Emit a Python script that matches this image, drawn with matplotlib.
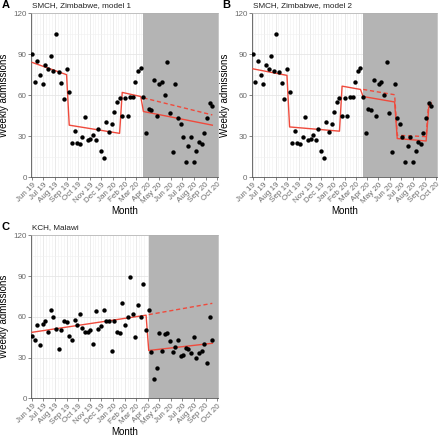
"""Weekly admissions with segmented-regression fits, three panels."""

import matplotlib

matplotlib.use("Agg")
import matplotlib.dates as mdates
import matplotlib.pyplot as plt
import pandas as pd

plt.rcParams["font.family"] = ["Liberation Sans", "DejaVu Sans"]

FIRST_WEEK = "2019-06-01"

# weekly admissions, SMCH Zimbabwe (panels A and B)
smch_admissions = [
    90, 70, 85, 75, 68, 82, 79, 89, 78, 105, 77, 69, 57, 79, 62, 25, 34, 25,
    24, 29, 44, 27, 28, 31, 27, 35, 19, 14, 40, 33, 39, 48, 55, 58, 45, 58,
    45, 59, 59, 70, 78, 80, 59, 32, 50, 49, 71, 45, 68, 70, 60, 84, 47, 18,
    68, 43, 39, 29, 11, 23, 29, 11, 19, 26, 24, 32, 43, 54, 52,
]

# weekly admissions, KCH Malawi (panel C)
kch_admissions = [
    46, 43, 54, 39, 55, 57, 49, 65, 60, 51, 36, 50, 57, 56, 46, 43, 58, 54,
    62, 52, 49, 49, 50, 40, 64, 51, 53, 65, 57, 57, 35, 57, 49, 48, 70, 54,
    60, 89, 62, 45, 69, 60, 84, 50, 65, 34, 14, 22, 48, 35, 47, 48, 42, 34,
    38, 43, 31, 32, 37, 36, 33, 45, 30, 33, 35, 40, 26, 60, 43,
]

# fitted lines: week index of each vertex and the fitted value there
a_fit_week = [0, 13, 14, 33, 34, 41, 42, 68]
a_fit_value = [84, 75, 38, 32, 62, 59, 48, 38]
a_cf_week = [42, 68]
a_cf_value = [58, 45.5]

b_fit_week = [0, 13, 14, 33, 34, 41, 42, 54, 55, 66, 67, 68]
b_fit_value = [79.3, 74.5, 36.7, 33.6, 66.6, 64.2, 59.0, 55.0, 28.2, 26.4, 51.0, 54.0]
b_cf_week = [42, 54, 55, 66, 67, 68]
b_cf_value = [64.2, 60.3, 30.6, 29.6, 55.0, 56.0]

c_fit_week = [0, 43, 44, 68]
c_fit_value = [48.6, 61.2, 35.2, 40.5]
c_cf_week = [44, 68]
c_cf_value = [61.6, 69.9]

# week at which the shaded (post-lockdown) period starts
a_shade_week = 42
c_shade_week = 44

RED = "#ef4a3c"
SHADE = "#b4b4b4"
W, H = 440, 436


def week_dates(n):
    return pd.date_range(FIRST_WEEK, periods=n, freq="7D")


def add_panel(fig, box, letter, title, counts, fit_w, fit_v, cf_w, cf_v, shade_w):
    left, top, right, bottom = box
    ax = fig.add_axes([left / W, 1 - bottom / H, (right - left) / W, (bottom - top) / H])
    dates = week_dates(len(counts))
    x_lo, x_hi = pd.Timestamp("2019-05-29"), pd.Timestamp("2020-10-04")

    ax.axvspan(dates[shade_w], x_hi, color=SHADE, lw=0, zorder=1)
    ax.plot(dates[fit_w], fit_v, color=RED, lw=1.0, zorder=3)
    ax.plot(dates[cf_w], cf_v, color=RED, lw=1.0, ls=(0, (3, 2)), zorder=3)
    ax.scatter(dates, counts, s=10, color="black", lw=0, zorder=4)

    ax.set_xlim(x_lo, x_hi)
    ax.set_ylim(0, 120)
    ax.set_yticks([0, 30, 60, 90, 120])
    ax.set_yticks([15, 45, 75, 105], minor=True)
    ax.xaxis.set_major_locator(mdates.MonthLocator())
    ax.xaxis.set_major_formatter(mdates.DateFormatter("%b %y"))
    ax.xaxis.set_minor_locator(mdates.DayLocator(bymonthday=[8, 15, 23]))
    ax.grid(which="major", color="#e6e6e6", lw=0.6, zorder=0)
    ax.grid(which="minor", color="#f0f0f0", lw=0.4, zorder=0)
    ax.set_axisbelow(True)

    ax.tick_params(axis="both", which="major", labelsize=5.8, colors="#555555",
                   labelcolor="#6a6a6a", length=2, width=0.5, pad=1)
    ax.tick_params(axis="both", which="minor", length=0)
    for lab in ax.get_xticklabels():
        lab.set_rotation(45)
        lab.set_ha("right")
        lab.set_rotation_mode("anchor")
    for side in ("top", "right"):
        ax.spines[side].set_color("#b0b0b0")
        ax.spines[side].set_linewidth(0.5)
    for side in ("left", "bottom"):
        ax.spines[side].set_color("#555555")
        ax.spines[side].set_linewidth(0.6)

    ax.set_ylabel("Weekly admissions", fontsize=7, labelpad=3)
    ax.set_xlabel("Month", fontsize=7, labelpad=1)
    fig.text((left + 1) / W, 1 - (top - 8) / H, title, fontsize=5.9, va="center",
             color="#222222")
    fig.text((left - 29) / W, 1 - (top - 8) / H, letter, fontsize=8,
             fontweight="bold", va="center")
    return ax


fig = plt.figure(figsize=(W / 100, H / 100), dpi=100)

add_panel(fig, (31, 13.3, 218, 177), "A", "SMCH, Zimbabwe, model 1",
          smch_admissions, a_fit_week, a_fit_value, a_cf_week, a_cf_value,
          a_shade_week)
add_panel(fig, (251.7, 13.3, 437, 177), "B", "SMCH, Zimbabwe, model 2",
          smch_admissions, b_fit_week, b_fit_value, b_cf_week, b_cf_value,
          a_shade_week)
add_panel(fig, (31, 235.3, 218, 398.3), "C", "KCH, Malawi",
          kch_admissions, c_fit_week, c_fit_value, c_cf_week, c_cf_value,
          c_shade_week)

fig.savefig("out.png", dpi=100)
